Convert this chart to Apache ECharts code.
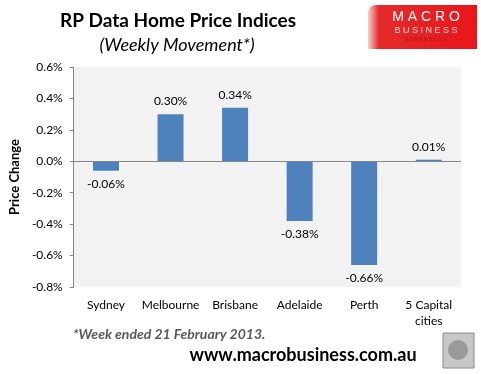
<!DOCTYPE html>
<html><head><meta charset="utf-8">
<script src="https://cdn.jsdelivr.net/npm/echarts@6/dist/echarts.min.js"></script>
<style>html,body{margin:0;padding:0;background:#fff}#c{width:481px;height:374px}</style>
</head><body><div id="c"></div>
<script>
const categories = ['Sydney', 'Melbourne', 'Brisbane', 'Adelaide', 'Perth', '5 Capital\ncities'];
const values = [-0.06, 0.30, 0.34, -0.38, -0.66, 0.01];
const yTicks = [-0.8, -0.6, -0.4, -0.2, 0.0, 0.2, 0.4, 0.6];

const chart = echarts.init(document.getElementById('c'));
const F = 'Lato, "Open Sans", sans-serif';
chart.setOption({
  backgroundColor: '#fff',
  animation: false,
  grid: { left: 64, right: 20, top: 67, bottom: 87, backgroundColor: '#f2f2f2', show: true, borderWidth: 0 },
  xAxis: {
    type: 'category', data: categories, position: 'bottom',
    axisLine: { show: false }, axisTick: { show: false },
    axisLabel: { margin: 10, color: '#000', fontFamily: F, fontSize: 12, lineHeight: 16, interval: 0 }
  },
  yAxis: {
    type: 'value', min: yTicks[0], max: yTicks[yTicks.length - 1], interval: 0.2,
    name: 'Price Change', nameLocation: 'middle', nameGap: 50, nameRotate: 90,
    nameTextStyle: { fontFamily: F, fontWeight: 'bold', fontSize: 13, color: '#000' },
    axisLine: { show: true, lineStyle: { color: '#868686' } },
    axisTick: { show: true, length: 4, lineStyle: { color: '#868686' } },
    splitLine: { show: false },
    axisLabel: { color: '#000', fontFamily: F, fontSize: 12, margin: 11, formatter: v => v.toFixed(1) + '%' }
  },
  series: [{
    type: 'bar', data: values.map(v => ({ value: v, label: { position: v >= 0 ? 'top' : 'bottom' } })),
    barWidth: 26, itemStyle: { color: '#4f81bd' },
    label: { show: true, color: '#000', fontFamily: F, fontSize: 12, distance: 7,
      formatter: p => p.value.toFixed(2) + '%' },
    markLine: { symbol: 'none', silent: true, label: { show: false },
      lineStyle: { color: '#868686', type: 'solid', width: 1 }, data: [{ yAxis: 0 }] }
  }],
  graphic: [
    { type: 'text', style: { x: 178, y: 21, text: 'RP Data Home Price Indices', textAlign: 'center', textVerticalAlign: 'middle', font: 'bold 19px ' + F, fill: '#000' } },
    { type: 'text', style: { x: 177, y: 45, text: '(Weekly Movement*)', textAlign: 'center', textVerticalAlign: 'middle', font: 'italic 18px ' + F, fill: '#000' } },
    { type: 'rect', shape: { x: 368, y: 5, width: 109, height: 44, r: [8, 0, 0, 0] },
      style: { fill: new echarts.graphic.LinearGradient(0, 0, 1, 0, [{ offset: 0, color: '#f8d0d0' }, { offset: 0.1, color: '#e52a2a' }, { offset: 1, color: '#e8161b' }]) } },
    { type: 'text', style: { x: 426, y: 17, text: 'M A C R O', textAlign: 'center', textVerticalAlign: 'middle', font: '14px "Liberation Sans", sans-serif', fill: '#fff' } },
    { type: 'text', style: { x: 426, y: 31, text: 'B U S I N E S S', textAlign: 'center', textVerticalAlign: 'middle', font: '9px "Liberation Sans", sans-serif', fill: '#ffd8d8' } },
    { type: 'text', style: { x: 426, y: 40, text: 'S U P E R B L O G', textAlign: 'center', textVerticalAlign: 'middle', font: '5px "Liberation Sans", sans-serif', fill: '#b01010' } },
    { type: 'text', style: { x: 73, y: 334, text: '*Week ended 21 February 2013.', textVerticalAlign: 'middle', font: 'italic bold 14px ' + F, fill: '#595959' } },
    { type: 'text', style: { x: 303, y: 355, text: 'www.macrobusiness.com.au', textAlign: 'center', textVerticalAlign: 'middle', font: 'bold 18px ' + F, fill: '#000' } },
    { type: 'rect', shape: { x: 443, y: 333, width: 31, height: 35 }, style: { fill: '#c8c8c8', stroke: '#8a8a8a', lineWidth: 1 } },
    { type: 'circle', shape: { cx: 458, cy: 350, r: 10 }, style: { fill: '#9a9a9a' } }
  ]
});
</script></body></html>
